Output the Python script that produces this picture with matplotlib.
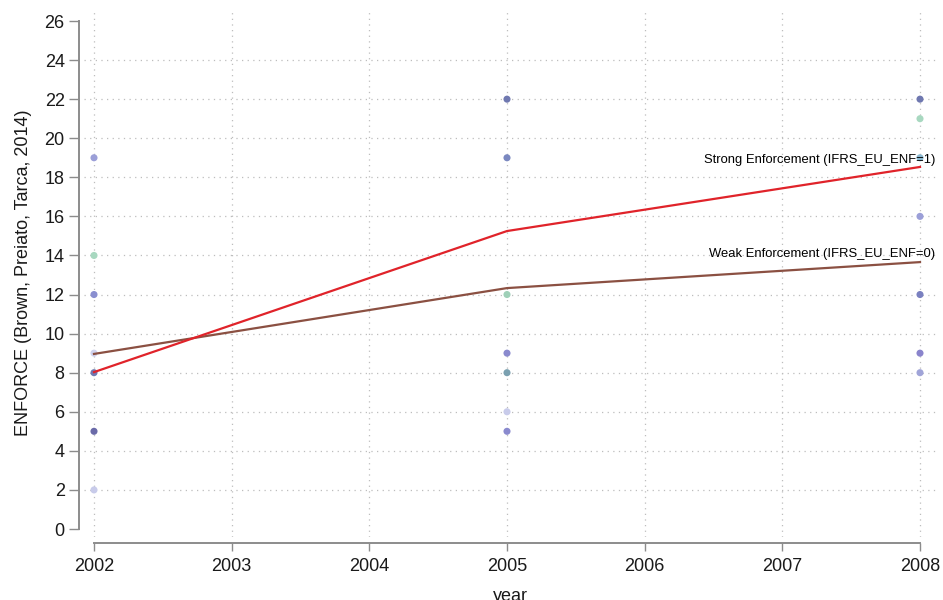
import matplotlib
matplotlib.use("Agg")
import matplotlib.pyplot as plt

plt.rcParams['font.family'] = ['Liberation Sans', 'DejaVu Sans']

# Individual country observations
years_2002 = [2002] * 7
vals_2002 = [19, 14, 12, 9, 8, 5, 2]
cols_2002 = ['#9b9fd8', '#a8d8c0', '#8a8fd0', '#d0d3ee', '#6f78b0', '#6a6aa8', '#c8cbea']

years_2005 = [2005] * 7
vals_2005 = [22, 19, 12, 9, 8, 6, 5]
cols_2005 = ['#6f78b0', '#7a88c0', '#9fd0b8', '#8a8ace', '#7aa0b0', '#c8cbea', '#8a8ace']

years_2008 = [2008] * 7
vals_2008 = [22, 21, 19, 16, 12, 9, 8]
cols_2008 = ['#6f78b0', '#a8d8c0', '#8ab8d0', '#9b9fd8', '#7a80c0', '#8a84cc', '#a0a4d8']

# Group means
line_years = [2002, 2005, 2008]
strong_means = [8.03, 15.25, 18.53]
weak_means = [8.96, 12.33, 13.66]
strong_label = "Strong Enforcement (IFRS_EU_ENF=1)"
weak_label = "Weak Enforcement (IFRS_EU_ENF=0)"

x_ticks = [2002, 2003, 2004, 2005, 2006, 2007, 2008]
y_ticks = list(range(0, 27, 2))
y_grid = list(range(2, 25, 2))

W, H = 943, 600
fig = plt.figure(figsize=(W / 100, H / 100), dpi=100)

xmin, xmax = 2001.93, 2008.12
ymin, ymax = -0.4, 26.6
px_per_year = (920 - 94) / 6
px_per_unit = (529 - 21) / 26
left_px = 94 - (2002 - xmin) * px_per_year
right_px = 920 + (xmax - 2008) * px_per_year
bottom_px = 529 + (0 - ymin) * px_per_unit
top_px = 21 - (ymax - 26) * px_per_unit
ax = fig.add_axes([left_px / W, 1 - bottom_px / H,
                   (right_px - left_px) / W, (bottom_px - top_px) / H])
ax.set_xlim(xmin, xmax)
ax.set_ylim(ymin, ymax)

# grid
for xt in x_ticks:
    ax.axvline(xt, color='#bdbdbd', lw=0.9, ls=(0, (1, 3.5)), zorder=0)
for yt in y_grid:
    ax.axhline(yt, color='#bdbdbd', lw=0.9, ls=(0, (1, 3.5)), zorder=0)

for xs, ys, cs in [(years_2002, vals_2002, cols_2002),
                   (years_2005, vals_2005, cols_2005),
                   (years_2008, vals_2008, cols_2008)]:
    ax.scatter(xs, ys, c=cs, s=26, edgecolors='none', zorder=2, clip_on=False)

ax.plot(line_years, weak_means, color='#8b5042', lw=1.6, zorder=3)
ax.plot(line_years, strong_means, color='#e0232a', lw=1.6, zorder=3)

ax.text(2008.11, 18.9, strong_label, ha='right', va='center', fontsize=9.4, zorder=4)
ax.text(2008.11, 14.1, weak_label, ha='right', va='center', fontsize=9.4, zorder=4)

# axes styling
for s in ['top', 'right']:
    ax.spines[s].set_visible(False)
ax.spines['left'].set_position(('outward', 4.2))
ax.spines['bottom'].set_position(('outward', 4.5))
ax.spines['left'].set_bounds(0, 26)
ax.spines['bottom'].set_bounds(2002, 2008)
for s in ['left', 'bottom']:
    ax.spines[s].set_color('#8c8c8c')
    ax.spines[s].set_linewidth(1.4)

ax.set_xticks(x_ticks)
ax.set_yticks(y_ticks)
ax.tick_params(axis='both', colors='#8c8c8c', width=1.0, labelsize=13,
               labelcolor='#1a1a1a')
ax.tick_params(axis='x', length=6, pad=5)
ax.tick_params(axis='y', length=7, pad=3)

ax.set_xlabel('year', fontsize=13, color='#1a1a1a', labelpad=9)
ax.set_ylabel('ENFORCE (Brown, Preiato, Tarca, 2014)', fontsize=13, color='#1a1a1a', labelpad=9)

fig.savefig('out.png', dpi=100)
